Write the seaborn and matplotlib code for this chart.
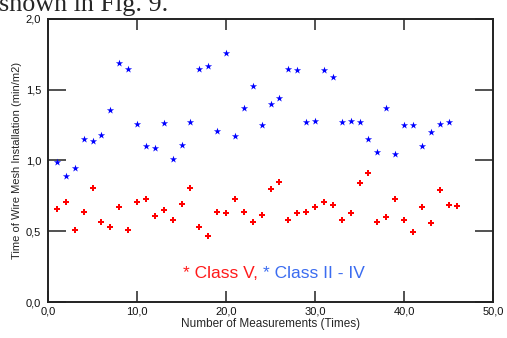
import matplotlib
matplotlib.use("Agg")
import matplotlib.pyplot as plt
import numpy as np
import pandas as pd
import seaborn as sns
from matplotlib.ticker import FixedLocator, FuncFormatter

# Class II - IV (blue stars), measurements 1..45
class_2_4 = [0.99, 0.89, 0.945, 1.15, 1.14, 1.18, 1.36, 1.69, 1.645, 1.26,
             1.10, 1.09, 1.265, 1.01, 1.11, 1.27, 1.65, 1.665, 1.21, 1.76,
             1.17, 1.37, 1.53, 1.25, 1.40, 1.44, 1.65, 1.64, 1.27, 1.28,
             1.64, 1.59, 1.27, 1.277, 1.27, 1.15, 1.06, 1.37, 1.045, 1.25,
             1.25, 1.10, 1.20, 1.26, 1.27]

# Class V (red crosses), measurements 1..46
class_5 = [0.657, 0.709, 0.507, 0.638, 0.808, 0.568, 0.528, 0.669, 0.507, 0.709,
           0.728, 0.608, 0.648, 0.577, 0.69, 0.808, 0.528, 0.466, 0.638, 0.629,
           0.728, 0.638, 0.568, 0.617, 0.80, 0.85, 0.577, 0.629, 0.638, 0.669,
           0.709, 0.688, 0.577, 0.629, 0.84, 0.91, 0.568, 0.60, 0.728, 0.577,
           0.497, 0.669, 0.558, 0.79, 0.688, 0.678]

x_ticks = [0, 10, 20, 30, 40, 50]
y_ticks = [0.0, 0.5, 1.0, 1.5, 2.0]

df_blue = pd.DataFrame({"n": np.arange(1, len(class_2_4) + 1), "t": class_2_4})
df_red = pd.DataFrame({"n": np.arange(1, len(class_5) + 1), "t": class_5})

sns.set_style("white")
plt.rcParams["font.family"] = ["Liberation Sans", "DejaVu Sans"]

fig = plt.figure(figsize=(5.07, 3.38), dpi=100)
ax = fig.add_axes([0.0947, 0.1065, 0.8777, 0.8373])

sns.scatterplot(data=df_blue, x="n", y="t", marker="*", color="#0000ff",
                s=30, linewidth=0, ax=ax)
sns.scatterplot(data=df_red, x="n", y="t", marker="P", color="#ff0000",
                s=20, linewidth=0, ax=ax)

ax.set_xlim(0, 50)
ax.set_ylim(0, 2.0)
ax.xaxis.set_major_locator(FixedLocator(x_ticks))
ax.yaxis.set_major_locator(FixedLocator(y_ticks))
comma = FuncFormatter(lambda v, pos: f"{v:.1f}".replace(".", ","))
ax.xaxis.set_major_formatter(comma)
ax.yaxis.set_major_formatter(comma)

ax.tick_params(axis="x", direction="in", length=8, width=1.2, color="#333333",
               top=True, bottom=True, labelsize=8, labelcolor="#111111", pad=3)
ax.tick_params(axis="y", direction="in", length=13, width=1.2, color="#333333",
               left=True, right=True, labelsize=8, labelcolor="#111111", pad=5)
for side in ax.spines.values():
    side.set_linewidth(1.4)
    side.set_color("#222222")

ax.set_xlabel("Number of Measurements (Times)", fontsize=8.5, labelpad=1)
ax.set_ylabel("Time of Wire Mesh Installation (min/m2)", fontsize=8, labelpad=3)

red_txt = ax.text(15.2, 0.17, "* Class V, ", color="#ff1a1a", fontsize=12.5,
                  ha="left", va="baseline")
ax.annotate("* Class II - IV", xy=(1, 0), xycoords=red_txt, color="#3b6cf0",
            fontsize=12.5, ha="left", va="bottom")

# caption line from the surrounding page, cut off at the top edge
fig.text(-0.002, 1 - 11.5 / 338, "shown in Fig. 9.", fontsize=18.8,
         family=["Liberation Serif", "DejaVu Serif"], ha="left", va="baseline")

fig.savefig("out.png", dpi=100)
